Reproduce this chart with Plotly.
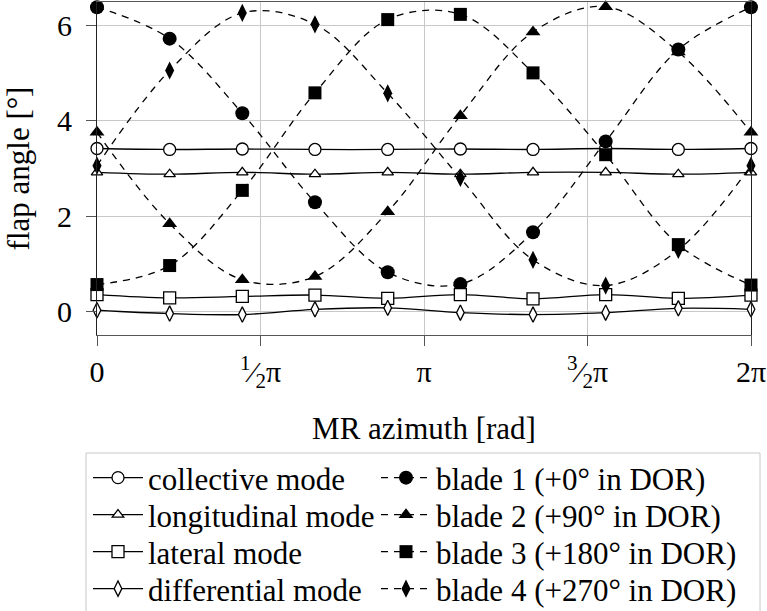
import numpy as np
import plotly.graph_objects as go

# MR azimuth [rad] sample positions (10 samples over one revolution)
azimuth = [0.0, 0.698, 1.396, 2.094, 2.793, 3.491, 4.189, 4.887, 5.585, 6.283]

# modes (solid lines, open markers)
collective = [3.42, 3.40, 3.41, 3.40, 3.40, 3.41, 3.40, 3.42, 3.40, 3.42]
longitudinal = [2.92, 2.88, 2.92, 2.88, 2.92, 2.88, 2.92, 2.92, 2.88, 2.92]
lateral = [0.35, 0.28, 0.31, 0.34, 0.27, 0.35, 0.26, 0.35, 0.27, 0.34]
differential = [0.02, -0.05, -0.07, 0.04, 0.07, -0.03, -0.07, -0.03, 0.06, 0.04]

# blades (dashed lines, filled markers)
blade1 = [6.39, 5.73, 4.16, 2.29, 0.82, 0.57, 1.66, 3.57, 5.50, 6.39]
blade2 = [3.76, 1.84, 0.66, 0.73, 2.09, 4.11, 5.87, 6.40, 5.45, 3.76]
blade3 = [0.56, 0.96, 2.54, 4.59, 6.13, 6.24, 5.01, 3.29, 1.40, 0.55]
blade4 = [3.06, 5.06, 6.27, 6.03, 4.58, 2.80, 1.08, 0.54, 1.29, 3.06]

mode_names = ["collective mode", "longitudinal mode", "lateral mode", "differential mode"]
blade_names = ["blade 1 (+0\u00b0 in DOR)", "blade 2 (+90\u00b0 in DOR)",
               "blade 3 (+180\u00b0 in DOR)", "blade 4 (+270\u00b0 in DOR)"]

tick_vals = [0, np.pi / 2, np.pi, 3 * np.pi / 2, 2 * np.pi]
tick_text = ["0", "<sup>1</sup>\u2044<sub>2</sub>\u03c0", "\u03c0",
             "<sup>3</sup>\u2044<sub>2</sub>\u03c0", "2\u03c0"]

FONT = "Liberation Serif"
FS = 30
TFS = 31
LFS = 31

# figure geometry (pixels)
W, H = 767, 611
ML, MR, MT, MB = 97, 16, 2, 276
PW, PH = W - ML - MR, H - MT - MB


def px2x(px):
    return (px - ML) / PW


def py2y(py):
    return (H - MB - py) / PH


fig = go.Figure()

mode_style = [("circle", 12), ("triangle-up", 10), ("square", 12), ("diamond-tall", 11)]
blade_style = [("circle", 14), ("triangle-up", 13), ("square", 13), ("diamond-tall", 13)]
mode_data = [collective, longitudinal, lateral, differential]
blade_data = [blade1, blade2, blade3, blade4]

row_y = [478, 515, 552, 589]
col_x = [88, 376]

legends = {}
idx = 0
for i in range(4):
    for c in range(2):
        lname = "legend" if idx == 0 else f"legend{idx + 1}"
        legends[lname] = dict(
            x=px2x(col_x[c]), y=py2y(row_y[i]), xanchor="left", yanchor="middle",
            bgcolor="rgba(0,0,0,0)", borderwidth=0, itemwidth=50,
            font=dict(family=FONT, size=LFS, color="black"),
        )
        if c == 0:
            sym, sz = mode_style[i]
            fig.add_trace(go.Scatter(
                x=azimuth, y=mode_data[i], name=mode_names[i], mode="lines+markers",
                legend=lname,
                line=dict(color="black", width=1.3, shape="spline", smoothing=1),
                marker=dict(symbol=sym, size=sz, color="white",
                            line=dict(color="black", width=1.3)),
                cliponaxis=False,
            ))
        else:
            sym, sz = blade_style[i]
            fig.add_trace(go.Scatter(
                x=azimuth, y=blade_data[i], name=blade_names[i], mode="lines+markers",
                legend=lname,
                line=dict(color="black", width=1.3, dash="7px,6px",
                          shape="spline", smoothing=1),
                marker=dict(symbol=sym, size=sz, color="black",
                            line=dict(color="black", width=0)),
                cliponaxis=False,
            ))
        idx += 1

fig.update_layout(
    width=W, height=H,
    margin=dict(l=ML, r=MR, t=MT, b=MB, autoexpand=False),
    paper_bgcolor="white", plot_bgcolor="white",
    font=dict(family=FONT, size=FS, color="black"),
    showlegend=True,
    xaxis=dict(
        range=[0, 2 * np.pi], tickmode="array", tickvals=tick_vals,
        ticktext=tick_text, showgrid=True, gridcolor="#c8c8c8", gridwidth=1,
        zeroline=False, showline=True, linecolor="#555", linewidth=1.2,
        mirror=True, ticks="outside", ticklen=10, tickcolor="#555",
        ticklabeloverflow="allow",
        title=dict(text="MR azimuth [rad]", standoff=24,
                   font=dict(family=FONT, size=TFS, color="black")),
    ),
    yaxis=dict(
        range=[-0.5, 6.5], tickmode="array", tickvals=[0, 2, 4, 6],
        showgrid=True, gridcolor="#c8c8c8", gridwidth=1,
        zeroline=False, showline=True, linecolor="#222", linewidth=1.2,
        mirror=True, ticks="outside", ticklen=10, tickcolor="#555",
        ticklabelstandoff=8,
        title=dict(text="flap angle [\u00b0]", standoff=18,
                   font=dict(family=FONT, size=TFS, color="black")),
    ),
    shapes=[dict(
        type="rect", xref="paper", yref="paper", layer="below",
        x0=px2x(86), x1=px2x(760), y0=py2y(453), y1=py2y(630),
        line=dict(color="#c8c8c8", width=1), fillcolor="rgba(0,0,0,0)",
    )],
    **legends,
)

fig.write_html("out.html")
